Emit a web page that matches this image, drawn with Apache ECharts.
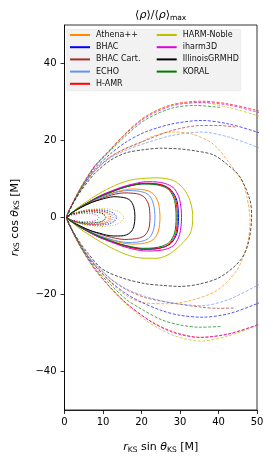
<!DOCTYPE html>
<html>
<head>
<meta charset="utf-8">
<script src="https://cdn.jsdelivr.net/npm/echarts@6/dist/echarts.min.js"></script>
<style>html,body{margin:0;padding:0;background:#fff}#c{width:273px;height:461px}</style>
</head>
<body>
<div id="c"></div>
<script>
// ---- data, units of M ----
const xTicks = [0, 10, 20, 30, 40, 50];
const yTicks = [-40, -20, 0, 20, 40];
const codes = ['Athena++','BHAC','BHAC Cart.','ECHO','H-AMR','HARM-Noble','iharm3D','IllinoisGRMHD','KORAL'];
const colors = ['#ff8c00','#0000ff','#a52a2a','#6495ed','#ff0000','#bfbf00','#e000e0','#000000','#007a00'];

// inner (dotted) contours
const athenaIn = [[0.6,0],[1.7,0.8],[3.5,1.3],[5.2,1.6],[7.0,1.7],[8.7,1.6],[10.1,1.3],[11.0,0.9],[11.6,0],[11.0,-0.8],[10.1,-1.2],[8.7,-1.5],[7.0,-1.6],[5.2,-1.5],[3.5,-1.2],[1.7,-0.7],[0.6,0]];
const bhacIn = [[0.6,0],[2.0,0.9],[4.1,1.5],[6.1,1.9],[8.2,2.0],[10.2,1.9],[11.8,1.6],[12.9,1.0],[13.6,0],[12.9,-1.0],[11.8,-1.6],[10.2,-1.9],[8.2,-2.0],[6.1,-1.9],[4.1,-1.5],[2.0,-0.9],[0.6,0]];
const bhacCartIn = [[0.6,0],[1.8,0.9],[3.6,1.4],[5.4,1.8],[7.2,1.9],[9.0,1.8],[10.4,1.5],[11.4,1.0],[12.0,0],[11.4,-0.9],[10.4,-1.4],[9.0,-1.7],[7.2,-1.8],[5.4,-1.7],[3.6,-1.4],[1.8,-0.8],[0.6,0]];
const echoIn = [[0.6,0],[2.0,0.9],[4.0,1.6],[5.9,2.0],[7.9,2.1],[9.9,2.0],[11.5,1.6],[12.5,1.1],[13.2,0],[12.5,-1.0],[11.5,-1.6],[9.9,-1.9],[7.9,-2.0],[5.9,-1.9],[4.0,-1.5],[2.0,-0.9],[0.6,0]];
const hamrIn = [[0.6,0],[1.9,0.8],[3.8,1.4],[5.7,1.7],[7.6,1.8],[9.5,1.7],[11.0,1.4],[12.0,0.9],[12.6,0],[12.0,-0.9],[11.0,-1.4],[9.5,-1.7],[7.6,-1.8],[5.7,-1.7],[3.8,-1.4],[1.9,-0.8],[0.6,0]];
const harmIn = [[0.6,0],[2.3,1.0],[4.6,1.7],[6.9,2.1],[9.2,2.3],[11.6,2.2],[13.4,1.8],[14.6,1.2],[15.4,0],[14.6,-1.2],[13.4,-1.8],[11.6,-2.2],[9.2,-2.3],[6.9,-2.1],[4.6,-1.7],[2.3,-1.0],[0.6,0]];
const iharmIn = [[0.6,0],[1.3,0.5],[2.7,0.8],[4.0,1.0],[5.3,1.1],[6.7,1.0],[7.7,0.9],[8.5,0.6],[8.9,0],[8.5,-0.6],[7.7,-0.9],[6.7,-1.0],[5.3,-1.1],[4.0,-1.0],[2.7,-0.8],[1.3,-0.5],[0.6,0]];
const illinoisIn = [[0.6,0],[1.6,0.7],[3.2,1.1],[4.9,1.4],[6.5,1.5],[8.1,1.4],[9.4,1.2],[10.3,0.8],[10.8,0],[10.3,-0.7],[9.4,-1.1],[8.1,-1.3],[6.5,-1.4],[4.9,-1.3],[3.2,-1.1],[1.6,-0.6],[0.6,0]];
const koralIn = [[0.6,0],[1.6,0.7],[3.2,1.1],[4.8,1.4],[6.4,1.5],[8.0,1.4],[9.2,1.2],[10.1,0.8],[10.6,0],[10.1,-0.8],[9.2,-1.2],[8.0,-1.4],[6.4,-1.5],[4.8,-1.4],[3.2,-1.1],[1.6,-0.7],[0.6,0]];

// middle (solid) contours
const athenaMid = [[0.6,0],[2.5,1.6],[5.0,3.1],[7.4,4.4],[9.9,5.5],[12.4,6.4],[14.9,7.0],[17.4,7.4],[19.8,7.3],[21.8,6.9],[23.3,5.9],[24.4,3.7],[24.8,0],[24.4,-3.5],[23.3,-5.5],[21.8,-6.4],[19.8,-6.8],[17.4,-6.9],[14.9,-6.6],[12.4,-5.9],[9.9,-5.1],[7.4,-4.1],[5.0,-2.9],[2.5,-1.5],[0.6,0]];
const bhacMid = [[0.6,0],[3.0,1.9],[5.9,3.7],[8.9,5.3],[11.8,6.5],[14.8,7.6],[17.8,8.4],[20.7,8.8],[23.7,8.7],[26.0,8.2],[27.8,7.0],[29.2,4.4],[29.6,0],[29.2,-4.1],[27.8,-6.6],[26.0,-7.6],[23.7,-8.1],[20.7,-8.2],[17.8,-7.8],[14.8,-7.1],[11.8,-6.1],[8.9,-4.9],[5.9,-3.4],[3.0,-1.8],[0.6,0]];
const bhacCartMid = [[0.6,0],[2.2,1.4],[4.4,2.7],[6.7,3.8],[8.9,4.7],[11.1,5.5],[13.3,6.1],[15.5,6.4],[17.8,6.3],[19.5,6.0],[20.9,5.1],[21.9,3.2],[22.2,0],[21.9,-2.9],[20.9,-4.6],[19.5,-5.3],[17.8,-5.6],[15.5,-5.7],[13.3,-5.4],[11.1,-4.9],[8.9,-4.2],[6.7,-3.4],[4.4,-2.4],[2.2,-1.3],[0.6,0]];
const echoMid = [[0.6,0],[2.4,1.5],[4.7,2.9],[7.1,4.2],[9.4,5.2],[11.8,6.0],[14.1,6.7],[16.5,7.0],[18.8,6.9],[20.7,6.5],[22.1,5.6],[23.1,3.5],[23.5,0],[23.1,-3.3],[22.1,-5.2],[20.7,-6.0],[18.8,-6.4],[16.5,-6.5],[14.1,-6.2],[11.8,-5.6],[9.4,-4.8],[7.1,-3.9],[4.7,-2.7],[2.4,-1.4],[0.6,0]];
const hamrMid = [[0.6,0],[2.9,2.0],[5.9,3.7],[8.8,5.3],[11.7,6.6],[14.7,7.7],[17.6,8.5],[20.5,8.9],[23.4,8.8],[25.8,8.3],[27.5,7.1],[28.9,4.5],[29.3,0],[28.9,-4.2],[27.5,-6.6],[25.8,-7.7],[23.4,-8.2],[20.5,-8.3],[17.6,-7.9],[14.7,-7.1],[11.7,-6.1],[8.8,-5.0],[5.9,-3.5],[2.9,-1.8],[0.6,0]];
const harmMid = [[0.6,0],[3,2.2],[6,4.3],[10,6.8],[14,8.7],[17,9.7],[20,10.1],[24,10.3],[28.3,9.6],[30.9,7.5],[32.6,4.4],[33.3,0.5],[33.2,-2],[32.6,-4.2],[30.9,-6.4],[27.4,-9.4],[24,-10.6],[19.6,-10.5],[16,-9.6],[12,-7.8],[8,-5.5],[4,-2.9],[0.6,0]];
const iharmMid = [[0.6,0],[3.0,2.0],[6.1,3.9],[9.1,5.6],[12.2,6.9],[15.2,8.0],[18.2,8.8],[21.3,9.3],[24.3,9.2],[26.8,8.6],[28.6,7.4],[29.9,4.7],[30.4,0],[29.9,-4.4],[28.6,-7.0],[26.8,-8.1],[24.3,-8.6],[21.3,-8.7],[18.2,-8.3],[15.2,-7.5],[12.2,-6.4],[9.1,-5.2],[6.1,-3.7],[3.0,-1.9],[0.6,0]];
const illinoisMid = [[0.6,0],[1.8,1.2],[3.7,2.3],[5.5,3.2],[7.3,4.0],[9.2,4.6],[11.0,5.1],[12.8,5.4],[14.6,5.3],[16.1,5.0],[17.2,4.3],[18.0,2.7],[18.3,0.3],[18.0,-2.4],[17.2,-3.8],[16.1,-4.5],[14.6,-4.8],[12.8,-4.8],[11.0,-4.6],[9.2,-4.1],[7.3,-3.6],[5.5,-2.9],[3.7,-2.0],[1.8,-1.1],[0.6,0]];
const koralMid = [[0.6,0],[2.9,1.9],[5.8,3.7],[8.7,5.2],[11.6,6.4],[14.5,7.5],[17.4,8.3],[20.3,8.7],[23.2,8.6],[25.5,8.1],[27.3,7.0],[28.6,4.4],[29.0,0],[28.6,-4.0],[27.3,-6.4],[25.5,-7.4],[23.2,-7.9],[20.3,-8.0],[17.4,-7.6],[14.5,-6.9],[11.6,-5.9],[8.7,-4.8],[5.8,-3.4],[2.9,-1.8],[0.6,0]];

// outer (dashed) contours
const athenaOut = [[0.6,0],[2,3.3],[4,6.8],[6,9.6],[8,12.2],[12,15.8],[16,17.9],[19.3,19.2],[22.7,21.0],[27.9,22.2],[33,21.7],[38.6,19.1],[43,13.9],[46.4,8.8],[47.7,3.6],[48.2,-0.8],[47.3,-7.7],[44.7,-13.8],[39.5,-19.0],[32.6,-21.6],[27,-22.4],[21,-22.2],[16.7,-20.7],[12,-16.9],[8,-12.6],[6,-9.8],[4,-6.9],[2,-3.4],[0.6,0]];
const bhacOut = [[53,21],[50,22.2],[42.6,24.3],[35.7,25.2],[27.9,24.3],[21,22.2],[16,19.6],[12,16.6],[8,12.8],[6,10.1],[4,7.0],[2,3.4],[0.6,0],[2,-3.4],[4,-7.0],[6,-10.1],[8,-12.6],[12,-16.7],[16,-19.8],[20,-22],[25.3,-24.2],[30,-25.4],[35.7,-25.9],[42.6,-25],[50,-22.4],[53,-21]];
const bhacCartOut = [[44.4,23.5],[40,23.9],[35.7,23.9],[27.9,22.6],[21,20.0],[16,18.0],[12,15.8],[8,12.4],[6,9.9],[4,6.9],[2,3.4],[0.6,0],[2,-3.4],[4,-6.9],[6,-9.9],[8,-12.3],[12,-16],[16,-18.7],[21,-20.8],[27.9,-22.2],[35.7,-23.3],[40,-23.6],[44.4,-23.5]];
const echoOut = [[53,17],[50,18.3],[42.6,20.9],[35.7,22.2],[27.9,21.3],[21,19.3],[16,17.5],[12,15.5],[8,12.2],[6,9.8],[4,6.8],[2,3.3],[0.6,0],[2,-3.3],[4,-6.8],[6,-9.8],[8,-12],[12,-15.9],[16,-18.5],[21,-20.5],[28,-22.2],[35.7,-22.9],[42.6,-21.3],[50,-17.7],[53,-16]];
const hamrOut = [[53,26.8],[50,27.8],[42.6,29.5],[35.7,30.2],[27.9,29.3],[21,26.2],[16,22],[12,17.8],[8,13.6],[6,10.7],[4,7.4],[2,3.5],[0.6,0],[2,-3.5],[4,-7.4],[6,-10.7],[8,-13.6],[11.8,-18.1],[16.2,-22.4],[22.2,-26.8],[28,-29.6],[35.2,-31.1],[42.6,-30.3],[50,-28],[53,-26.8]];
const harmOut = [[53,25.4],[50,26.5],[42.6,28.6],[35.7,29.8],[27.9,29.3],[21,26.2],[16,21.9],[12,17.7],[8,13.6],[6,10.7],[4,7.4],[2,3.5],[0.6,0],[2,-3.5],[4,-7.4],[6,-10.8],[8,-13.8],[12,-18.4],[16.2,-22.7],[21.8,-27.2],[28,-30.5],[35.2,-32.1],[42.1,-30.9],[50,-28],[53,-26.6]];
const iharmOut = [[53,26.4],[50,27.4],[42.6,29.2],[35.7,29.9],[27.9,29.0],[21,25.9],[16,21.8],[12,17.7],[8,13.5],[6,10.6],[4,7.3],[2,3.5],[0.6,0],[2,-3.5],[4,-7.3],[6,-10.6],[8,-13.5],[11.8,-18.0],[16.2,-22.4],[22.2,-26.9],[28,-29.8],[35.2,-31.2],[42.6,-30.2],[50,-27.9],[53,-26.7]];
const illinoisOut = [[0.6,0],[2,3.2],[4,6.5],[6,9.2],[8,11.6],[12,14.9],[16,16.8],[20.5,17.6],[25,18],[30,17.8],[34,17.3],[38.6,16.3],[42,14],[45.6,10.5],[48.2,4.4],[48.6,0.1],[47.7,-6.8],[45.6,-11.2],[40.4,-15.5],[35,-17.3],[30,-17.9],[25,-17.6],[21,-17.2],[15,-15.7],[9.7,-13.3],[6,-9.2],[4,-6.5],[2,-3.2],[0.6,0]];
const koralOut = [[40.4,28.6],[34,29.1],[27.9,28.4],[21,25.4],[16,21.3],[12,17.4],[8,13.3],[6,10.4],[4,7.2],[2,3.4],[0.6,0],[2,-3.4],[4,-7.2],[6,-10.4],[8,-13.2],[12,-17.5],[16.2,-21.4],[20,-23.8],[25.3,-26.6],[30,-27.9],[35.2,-28.5],[40.8,-28.3]];

const inner = [athenaIn,bhacIn,bhacCartIn,echoIn,hamrIn,harmIn,iharmIn,illinoisIn,koralIn];
const middle = [athenaMid,bhacMid,bhacCartMid,echoMid,hamrMid,harmMid,iharmMid,illinoisMid,koralMid];
const outer = [athenaOut,bhacOut,bhacCartOut,echoOut,hamrOut,harmOut,iharmOut,illinoisOut,koralOut];

const FF = 'DejaVu Sans';
const series = [];
function addSeries(list, type, width, z, opacity) {
  list.forEach((d, i) => {
    series.push({
      name: codes[i], type: 'line', data: d, showSymbol: false, symbol: 'none',
      smooth: 0.3, clip: true, z: z, silent: true,
      itemStyle: { color: colors[i] },
      lineStyle: { color: colors[i], width: width, type: type, opacity: opacity }
    });
  });
}
addSeries(middle, 'solid', 1, 3, 1);
addSeries(outer, [3, 1.6], 0.8, 2, 0.85);
addSeries(inner, [1, 1.6], 1, 2, 0.9);

const chart = echarts.init(document.getElementById('c'), null, { renderer: 'canvas' });
const minus = v => (v < 0 ? '\u2212' + Math.abs(v) : String(v));
const legendBase = {
  orient: 'vertical', top: 30, padding: 0, itemWidth: 20, itemHeight: 2, itemGap: 2.2,
  icon: 'rect', selectedMode: false, itemStyle: { borderWidth: 0 },
  textStyle: { fontFamily: FF, fontSize: 8, lineHeight: 10, color: '#111', padding: [0,0,0,1] }
};
const nameRich = {
  i: { fontFamily: FF, fontSize: 11, fontStyle: 'italic', color: '#000' },
  n: { fontFamily: FF, fontSize: 11, color: '#000' },
  s: { fontFamily: FF, fontSize: 7.5, color: '#000', padding: [5, 0, 0, 0] }
};
chart.setOption({
  animation: false,
  backgroundColor: '#fff',
  grid: { left: 64.5, top: 25, width: 192.5, height: 385, show: true, borderColor: '#000', borderWidth: 0.8, backgroundColor: 'transparent' },
  xAxis: {
    type: 'value', min: 0, max: 50, interval: 10,
    axisLine: { show: true, onZero: false, lineStyle: { color: '#000', width: 0.8 } },
    axisTick: { show: true, length: 4, lineStyle: { color: '#000', width: 0.8 } },
    axisLabel: { fontFamily: FF, fontSize: 10, color: '#000', margin: 7, formatter: minus, customValues: xTicks },
    splitLine: { show: false },
    name: '{i|r}{s|KS}{n| sin }{i|θ}{s|KS}{n| [M]}', nameLocation: 'middle', nameGap: 31,
    nameTextStyle: { rich: nameRich }
  },
  yAxis: {
    type: 'value', min: -50, max: 50,
    axisLine: { show: true, onZero: false, lineStyle: { color: '#000', width: 0.8 } },
    axisTick: { show: true, length: 4, customValues: yTicks, lineStyle: { color: '#000', width: 0.8 } },
    axisLabel: { fontFamily: FF, fontSize: 10, color: '#000', margin: 8, formatter: minus, customValues: yTicks },
    splitLine: { show: false },
    name: '{i|r}{s|KS}{n| cos }{i|θ}{s|KS}{n| [M]}', nameLocation: 'middle', nameGap: 43, nameRotate: 90,
    nameTextStyle: { rich: nameRich }
  },
  legend: [
    Object.assign({}, legendBase, { left: 70, data: codes.slice(0, 5) }),
    Object.assign({}, legendBase, { left: 156.7, data: codes.slice(5) })
  ],
  graphic: [
    { type: 'rect', z: 3, silent: true, shape: { x: 66.7, y: 29.3, width: 174, height: 61.4 }, style: { fill: '#f2f2f2', stroke: '#e8e8e8', lineWidth: 0.6 } },
    { type: 'text', z: 5, silent: true, x: 160.7, y: 15.5,
      style: { text: '{n|⟨}{i|ρ}{n|⟩/⟨}{i|ρ}{n|⟩}{s|max}', align: 'center', verticalAlign: 'middle',
        rich: { n: { fontFamily: FF, fontSize: 11, color: '#000' }, i: { fontFamily: FF, fontSize: 11, fontStyle: 'italic', color: '#000' }, s: { fontFamily: FF, fontSize: 7.5, color: '#000', padding: [5,0,0,0] } } } }
  ],
  series: series
});
</script>
</body>
</html>
